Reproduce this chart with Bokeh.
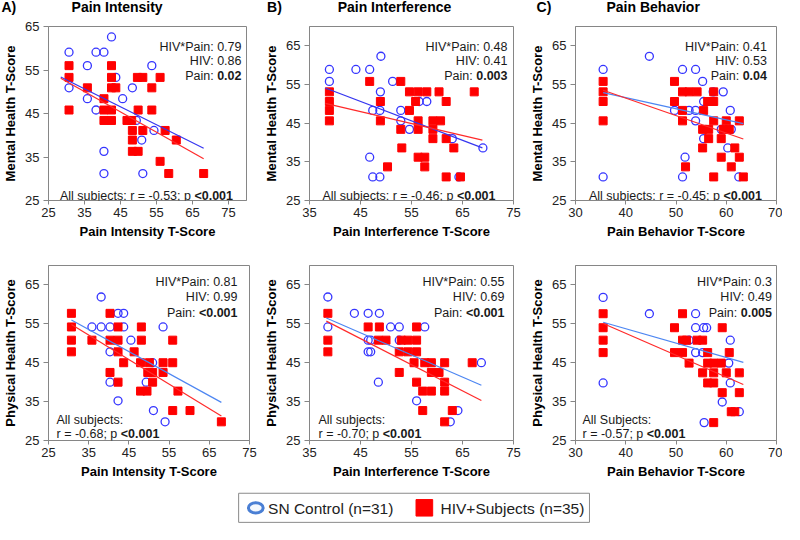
from bokeh.plotting import figure
from bokeh.layouts import column, row
from bokeh.models import Range1d, FixedTicker, Label
from bokeh.embed import file_html
from bokeh.resources import INLINE
from bokeh.core.properties import value

FONT = "Liberation Sans"

# ---------------- data ----------------
# Row 1: Mental Health T-Score
mh_int_sn_x = [30.7, 30.7, 35.8, 35.8, 38.2, 38.2, 40.4, 40.4, 40.4, 42.5, 43.7, 45.6, 48.3, 49.4, 50.9, 51.2, 53.7, 54.3]
mh_int_sn_y = [59.1, 50.9, 56.0, 48.4, 59.1, 45.8, 59.1, 36.3, 31.2, 62.6, 53.3, 48.4, 50.9, 43.4, 38.9, 31.2, 56.0, 41.1]
mh_int_hiv_x = [30.7, 30.7, 30.7, 35.8, 40.4, 40.4, 40.4, 42.5, 42.5, 42.5, 42.5, 42.5, 43.7, 46.8, 48.1, 48.3,
                48.3, 48.3, 49.9, 49.9, 49.7, 51.2, 51.2, 53.7, 53.7, 56.0, 56.0, 57.4, 58.4, 60.5, 68.1]
mh_int_hiv_y = [56.0, 53.3, 45.8, 50.9, 48.4, 45.8, 43.4, 56.0, 53.3, 50.9, 45.8, 43.4, 50.9, 43.4, 43.4, 41.1,
                38.9, 36.3, 45.8, 36.3, 53.3, 53.3, 41.1, 50.9, 45.8, 53.3, 34.0, 41.1, 31.2, 38.9, 31.2]
mh_int_fit_x = [28.4, 68.1]
mh_int_fit_sn = [53.4, 37.0]
mh_int_fit_hiv = [53.1, 34.6]

mh_inf_sn_x = [38.9, 38.9, 44.1, 46.8, 49.0, 48.9, 47.4, 48.8, 46.8, 47.4, 48.8, 51.3, 52.9, 52.9, 54.6, 56.5, 58.0, 63.0, 64.3, 69.0]
mh_inf_sn_y = [58.9, 55.8, 58.9, 58.9, 62.3, 53.1, 48.3, 48.3, 36.2, 31.1, 31.1, 55.8, 48.3, 45.6, 43.4, 50.6, 50.6, 41.0, 31.1, 38.6]
mh_inf_hiv_x = [38.9, 38.9, 38.9, 38.9, 46.8, 48.9, 48.9, 50.3, 52.9, 52.9, 53.1, 54.6, 54.6, 55.8, 56.3, 56.3,
                56.3, 56.3, 57.6, 57.6, 58.0, 59.2, 59.2, 59.2, 60.4, 60.7, 61.8, 61.8, 61.8, 63.3, 64.6, 67.3]
mh_inf_hiv_y = [53.1, 50.6, 48.3, 45.6, 55.8, 50.6, 45.6, 33.7, 55.8, 43.4, 38.6, 53.1, 48.3, 50.6, 53.1, 45.6,
                43.4, 36.2, 36.2, 33.7, 53.1, 45.6, 43.4, 41.0, 53.1, 45.6, 50.6, 41.0, 31.1, 38.6, 31.1, 53.1]
mh_inf_fit_x = [38.1, 68.9]
mh_inf_fit_sn = [54.1, 38.6]
mh_inf_fit_hiv = [50.1, 40.6]

mh_beh_sn_x = [35.5, 35.5, 44.7, 49.7, 51.3, 51.8, 51.3, 52.6, 53.9, 53.9, 53.9, 55.3, 55.5, 55.5, 57.4, 59.4, 59.0, 60.3, 60.8, 61.0, 62.5]
mh_beh_sn_y = [58.9, 31.1, 62.3, 48.3, 58.9, 36.2, 31.1, 48.3, 58.9, 48.3, 45.6, 55.8, 50.6, 41.0, 53.1, 53.1, 43.4, 38.6, 48.3, 43.4, 31.1]
mh_beh_hiv_x = [35.5, 35.5, 35.5, 35.5, 49.7, 49.7, 51.3, 51.3, 51.3, 51.9, 52.6, 54.2, 55.5, 55.3, 55.3, 56.3,
                56.5, 56.5, 57.5, 57.5, 57.5, 57.5, 59.0, 59.0, 59.4, 60.0, 60.6, 61.0, 61.7, 62.6, 62.6, 63.4]
mh_beh_hiv_y = [55.8, 53.1, 50.6, 45.6, 55.8, 50.6, 53.1, 48.3, 45.6, 33.7, 53.1, 53.1, 48.3, 43.4, 38.6, 50.6,
                43.4, 41.0, 53.1, 50.6, 45.6, 31.1, 41.0, 36.2, 43.4, 45.6, 43.4, 33.7, 38.6, 45.6, 36.2, 31.1]
mh_beh_fit_x = [35.5, 63.4]
mh_beh_fit_sn = [52.9, 44.9]
mh_beh_fit_hiv = [53.5, 40.9]

# Row 2: Physical Health T-Score
ph_int_sn_x = [38.1, 35.8, 38.1, 40.3, 40.3, 40.3, 42.3, 43.7, 43.7, 45.5, 42.3, 49.3, 50.9, 51.1, 53.5, 54.0]
ph_int_sn_y = [61.9, 54.2, 54.2, 54.2, 47.8, 40.0, 57.7, 57.7, 54.2, 50.8, 35.2, 40.0, 45.0, 32.7, 54.2, 29.8]
ph_int_hiv_x = [30.7, 30.7, 30.7, 30.7, 35.8, 40.3, 40.3, 40.3, 42.3, 42.3, 42.3, 42.3, 43.7, 46.3, 48.1, 48.1,
                47.9, 47.9, 49.5, 49.7, 50.1, 50.9, 50.9, 53.5, 53.5, 55.9, 55.9, 55.9, 57.2, 60.2, 68.0]
ph_int_hiv_y = [57.7, 54.2, 50.8, 47.8, 50.8, 57.7, 50.8, 42.5, 54.2, 50.8, 47.8, 40.0, 45.0, 47.8, 54.2, 50.8,
                45.0, 37.7, 37.7, 42.5, 45.0, 42.5, 40.0, 45.0, 42.5, 50.8, 45.0, 32.7, 37.7, 32.7, 29.8]
ph_int_fit_x = [30.7, 68.0]
ph_int_fit_sn = [56.0, 34.8]
ph_int_fit_hiv = [54.8, 31.3]

ph_inf_sn_x = [38.6, 38.6, 43.8, 46.5, 48.7, 46.5, 47.0, 46.5, 47.0, 48.5, 50.9, 52.6, 52.6, 57.6, 56.0, 62.6, 64.1, 68.7]
ph_inf_sn_y = [61.9, 54.2, 57.7, 57.7, 57.7, 50.8, 50.8, 47.8, 47.8, 40.0, 54.2, 54.2, 50.8, 54.2, 35.2, 29.8, 32.7, 45.0]
ph_inf_hiv_x = [38.6, 38.6, 38.6, 46.5, 48.7, 48.5, 50.0, 52.6, 52.6, 53.0, 54.3, 54.3, 56.0, 56.0, 56.0, 55.5,
                56.0, 57.2, 57.2, 57.6, 58.9, 58.9, 58.9, 60.4, 61.5, 61.5, 61.5, 61.5, 63.0, 66.9]
ph_inf_hiv_y = [57.7, 50.8, 47.8, 54.2, 54.2, 50.8, 50.8, 47.8, 42.5, 50.8, 50.8, 47.8, 54.2, 50.8, 47.8, 45.0,
                40.0, 37.7, 32.7, 45.0, 45.0, 42.5, 37.7, 42.5, 45.0, 40.0, 37.7, 29.8, 32.7, 45.0]
ph_inf_fit_x = [38.3, 68.7]
ph_inf_fit_sn = [56.5, 39.2]
ph_inf_fit_hiv = [55.7, 35.3]

ph_beh_sn_x = [35.5, 35.5, 44.7, 53.9, 53.9, 55.5, 56.1, 52.6, 53.9, 55.3, 60.8, 60.5, 60.8, 59.2, 55.6, 62.6]
ph_beh_sn_y = [61.8, 39.8, 57.6, 57.6, 54.0, 54.0, 54.0, 50.8, 47.6, 47.6, 50.8, 44.9, 39.8, 34.9, 29.6, 32.4]
ph_beh_hiv_x = [35.5, 35.5, 35.5, 35.5, 49.7, 49.7, 51.3, 51.3, 51.3, 52.1, 52.6, 54.2, 55.3, 55.3, 56.3, 56.3,
                56.3, 57.5, 57.5, 57.5, 57.5, 59.0, 59.2, 59.2, 60.0, 60.6, 61.0, 61.7, 62.6, 62.6]
ph_beh_hiv_y = [57.6, 54.0, 50.8, 47.6, 54.0, 47.6, 57.6, 50.8, 47.6, 50.8, 44.9, 50.8, 50.8, 42.4, 47.6, 44.9,
                39.8, 44.9, 42.4, 39.8, 29.6, 44.9, 37.3, 54.0, 42.4, 47.6, 32.4, 32.4, 42.4, 37.3]
ph_beh_fit_x = [35.5, 63.4]
ph_beh_fit_sn = [55.4, 45.1]
ph_beh_fit_hiv = [55.1, 39.4]

# stats text
stats_mh_int = [("HIV*Pain: ", "0.79", ""), ("HIV: ", "0.86", ""), ("Pain: ", "", "0.02")]
stats_mh_inf = [("HIV*Pain: ", "0.48", ""), ("HIV: ", "0.41", ""), ("Pain: ", "", "0.003")]
stats_mh_beh = [("HIV*Pain: ", "0.41", ""), ("HIV: ", "0.53", ""), ("Pain: ", "", "0.04")]
stats_ph_int = [("HIV*Pain: ", "0.81", ""), ("HIV: ", "0.99", ""), ("Pain: ", "", "<0.001")]
stats_ph_inf = [("HIV*Pain: ", "0.55", ""), ("HIV: ", "0.69", ""), ("Pain: ", "", "<0.001")]
stats_ph_beh = [("HIV*Pain: ", "0.3", ""), ("HIV: ", "0.49", ""), ("Pain: ", "", "0.005")]
all_mh_int = ["All subjects: r = -0.53; p ", "<0.001"]
all_mh_inf = ["All subjects: r = -0.46; p ", "<0.001"]
all_mh_beh = ["All subjects: r = -0.45; p ", "<0.001"]
all_ph_int = ["All subjects:", "r = -0.68; p ", "<0.001"]
all_ph_inf = ["All subjects:", "r = -0.70; p ", "<0.001"]
all_ph_beh = ["All Subjects:", "r = -0.57; p ", "<0.001"]

titles_letters = ["A)", "B)", "C)"]
titles_names = ["Pain Intensity", "Pain Interference", "Pain Behavior"]
legend_labels = ["SN Control (n=31)", "HIV+Subjects (n=35)"]

# ---------------- styling ----------------
FS = 12.5
AXFS = 13
SN_COLOR = "#3535ff"
HIV_COLOR = "#ff0000"
AX_COLOR = "#868686"
TXT = "#1a1a1a"

REG = {' ': .278, 'A': .667, 'l': .222, 's': .5, 'u': .556, 'b': .556, 'j': .222, 'e': .556, 'c': .5,
       't': .278, 'S': .667, ':': .278, 'r': .333, '=': .584, '-': .333, '.': .278, ';': .278, 'p': .556,
       'H': .722, 'I': .278, 'V': .667, '*': .389, 'P': .667, 'a': .556, 'i': .222, 'n': .556}
BOLD = {'<': .584, '.': .278}


def width_of(s, table):
    return sum(table.get(c, .556) for c in s) * FS


def lab(p, x, y, text, dx, dy, align, bold=False):
    p.add_layout(Label(x=x, y=y, x_offset=dx, y_offset=dy, text=text, text_font=FONT,
                       text_font_size=f"{FS}px", text_font_style="bold" if bold else "normal",
                       text_color=TXT, text_align=align, text_baseline="alphabetic"))


def panel(sn_x, sn_y, hiv_x, hiv_y, fit_x, fit_sn, fit_hiv, xr, yr, xticks, xlabel, ylabel,
          width, height, bl, br, bt, bb, stats, stat_rdx, stat_dys, allsub, sub_ldx, sub_dys, blue_line):
    p = figure(width=width, height=height, x_range=Range1d(*xr), y_range=Range1d(*yr),
               output_backend="svg", toolbar_location=None,
               min_border_left=bl, min_border_right=br, min_border_top=bt, min_border_bottom=bb)
    p.xgrid.visible = False
    p.ygrid.visible = False
    p.outline_line_color = AX_COLOR
    p.outline_line_width = 1
    p.xaxis.ticker = FixedTicker(ticks=xticks)
    p.yaxis.ticker = FixedTicker(ticks=[25, 35, 45, 55, 65])
    for ax in (p.xaxis[0], p.yaxis[0]):
        ax.axis_line_color = AX_COLOR
        ax.major_tick_line_color = AX_COLOR
        ax.minor_tick_line_color = None
        ax.major_tick_in = 0
        ax.major_label_text_font = FONT
        ax.major_label_text_font_size = f"{AXFS}px"
        ax.major_label_text_color = "#222222"
        ax.axis_label_text_font = FONT
        ax.axis_label_text_font_size = f"{AXFS}px"
        ax.axis_label_text_font_style = "bold"
        ax.axis_label_text_color = "#000000"
    p.xaxis.major_tick_out = 4
    p.xaxis.major_label_standoff = 3
    p.xaxis.axis_label_standoff = 4
    p.yaxis.major_tick_out = 5
    p.yaxis.major_label_standoff = 4
    p.yaxis.axis_label_standoff = 4
    p.xaxis.axis_label = xlabel
    p.yaxis.axis_label = ylabel

    p.scatter(sn_x, sn_y, marker="circle", size=8, line_color=SN_COLOR, line_width=1.3, fill_alpha=0)
    p.scatter(hiv_x, hiv_y, marker="square", size=8, line_color=HIV_COLOR, fill_color=HIV_COLOR)
    p.line(fit_x, fit_sn, line_color=blue_line, line_width=1.2)
    p.line(fit_x, fit_hiv, line_color="#ff2a2a", line_width=1.2)

    # stats block, top right
    for (norm, val, bval), dy in zip(stats, stat_dys):
        if bval:
            lab(p, xr[1], yr[1], bval, -stat_rdx, -dy, "right", bold=True)
            lab(p, xr[1], yr[1], norm, -stat_rdx - width_of(bval, BOLD), -dy, "right")
        else:
            lab(p, xr[1], yr[1], norm + val, -stat_rdx, -dy, "right")

    # all-subjects text, bottom left
    if len(allsub) == 2:
        lab(p, xr[0], yr[0], allsub[0], sub_ldx, sub_dys[0], "left")
        lab(p, xr[0], yr[0], allsub[1], sub_ldx + width_of(allsub[0], REG), sub_dys[0], "left", bold=True)
    else:
        lab(p, xr[0], yr[0], allsub[0], sub_ldx, sub_dys[0], "left")
        lab(p, xr[0], yr[0], allsub[1], sub_ldx, sub_dys[1], "left")
        lab(p, xr[0], yr[0], allsub[2], sub_ldx + width_of(allsub[1], REG), sub_dys[1], "left", bold=True)
    return p


TOP_H, BOT_H = 226, 237
top_stat = [20, 34.5, 49]
bot_stat = [16, 31.5, 47]

pA1 = panel(mh_int_sn_x, mh_int_sn_y, mh_int_hiv_x, mh_int_hiv_y, mh_int_fit_x, mh_int_fit_sn, mh_int_fit_hiv,
            (25, 80), (25, 65), [25, 35, 45, 55, 65, 75], "Pain Intensity T-Score", "Mental Health T-Score",
            257, TOP_H, 44, 11, 7, 45, stats_mh_int, 5, top_stat, all_mh_int, 11.5, [4.5], "#3535f0")
pB1 = panel(mh_inf_sn_x, mh_inf_sn_y, mh_inf_hiv_x, mh_inf_hiv_y, mh_inf_fit_x, mh_inf_fit_sn, mh_inf_fit_hiv,
            (35, 75), (25, 70), [35, 45, 55, 65, 75], "Pain Interference T-Score", "Mental Health T-Score",
            267, TOP_H, 52, 11, 7, 45, stats_mh_inf, 6, top_stat, all_mh_inf, 13, [4.5], "#3535f0")
pC1 = panel(mh_beh_sn_x, mh_beh_sn_y, mh_beh_hiv_x, mh_beh_hiv_y, mh_beh_fit_x, mh_beh_fit_sn, mh_beh_fit_hiv,
            (30, 70), (25, 70), [30, 40, 50, 60, 70], "Pain Behavior T-Score", "Mental Health T-Score",
            258, TOP_H, 51, 6, 7, 45, stats_mh_beh, 9.5, top_stat, all_mh_beh, 13.5, [4.5], "#4d86f2")

pA2 = panel(ph_int_sn_x, ph_int_sn_y, ph_int_hiv_x, ph_int_hiv_y, ph_int_fit_x, ph_int_fit_sn, ph_int_fit_hiv,
            (25, 75), (25, 70), [25, 35, 45, 55, 65, 75], "Pain Intensity T-Score", "Physical Health T-Score",
            257, BOT_H, 44, 8, 20, 42, stats_ph_int, 12, bot_stat, all_ph_int, 8, [20.4, 6.3], "#4d86f2")
pB2 = panel(ph_inf_sn_x, ph_inf_sn_y, ph_inf_hiv_x, ph_inf_hiv_y, ph_inf_fit_x, ph_inf_fit_sn, ph_inf_fit_hiv,
            (35, 75), (25, 70), [35, 45, 55, 65, 75], "Pain Interference T-Score", "Physical Health T-Score",
            267, BOT_H, 52, 11, 20, 42, stats_ph_inf, 9, bot_stat, all_ph_inf, 9, [20.4, 6.3], "#4d86f2")
pC2 = panel(ph_beh_sn_x, ph_beh_sn_y, ph_beh_hiv_x, ph_beh_hiv_y, ph_beh_fit_x, ph_beh_fit_sn, ph_beh_fit_hiv,
            (30, 70), (25, 70), [30, 40, 50, 60, 70], "Pain Behavior T-Score", "Physical Health T-Score",
            258, BOT_H, 51, 6, 20, 42, stats_ph_beh, 4.5, bot_stat, all_ph_beh, 7, [20.4, 6.3], "#4d86f2")

# ---------------- header (panel titles) ----------------
W = 782
SX, SY = 0.98, 0.97
hdr = figure(width=W, height=19, x_range=Range1d(0, W / SX), y_range=Range1d(19 / SY, 0),
             x_axis_location=None, y_axis_location=None, output_backend="svg",
             toolbar_location=None, min_border=0)
hdr.grid.visible = False
hdr.outline_line_color = None
hdr.text(x=[1, 272, 547], y=[7, 7, 7], text=titles_letters, text_font=value(FONT),
         text_font_size="14px", text_font_style="bold", text_align="left", text_baseline="middle",
         text_color="#000000")
hdr.text(x=[119, 402, 666], y=[7, 7, 7], text=titles_names, text_font=value(FONT),
         text_font_size="14px", text_font_style="bold", text_align="center", text_baseline="middle",
         text_color="#000000")

# ---------------- legend ----------------
LEG_TOP, LEG_H = 482, 41
leg = figure(width=W, height=LEG_H, x_range=Range1d(0, W / SX),
             y_range=Range1d((LEG_TOP + LEG_H) / SY, LEG_TOP / SY),
             x_axis_location=None, y_axis_location=None, output_backend="svg",
             toolbar_location=None, min_border=0)
leg.grid.visible = False
leg.outline_line_color = None
leg.quad(left=[243], right=[601], top=[508], bottom=[538], fill_color=None, line_color="#8a8a8a", line_width=1)
leg.ellipse(x=[260.5], y=[523], width=15, height=10.5, fill_color="#f4f8fd", line_color="#4a7fd4", line_width=3)
leg.quad(left=[424], right=[441], top=[514.5], bottom=[531.5], fill_color=HIV_COLOR, line_color=HIV_COLOR)
leg.text(x=[273, 449], y=[523.5, 523.5], text=legend_labels, text_font=value(FONT), text_font_size="15.5px",
         text_align="left", text_baseline="middle", text_color="#222222")

layout = column(hdr, row(pA1, pB1, pC1), row(pA2, pB2, pC2), leg)
open("out.html", "w").write(file_html(layout, INLINE))
